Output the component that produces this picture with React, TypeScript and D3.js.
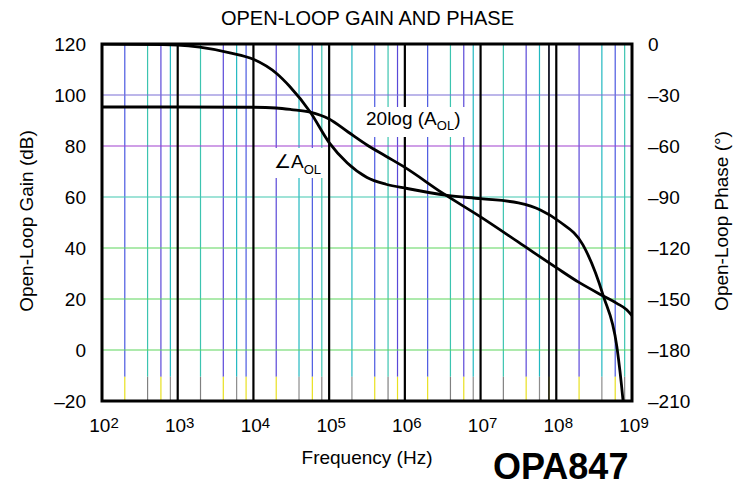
import React from "react";
import * as d3 from "d3";

const W = 734;
const H = 487;

// decades of frequency (Hz)
const decades = [2, 3, 4, 5, 6, 7, 8, 9];
const minorMultiples = [2, 4, 6, 8];
const gainTicks = [120, 100, 80, 60, 40, 20, 0, -20];
const phaseTicks = [0, -30, -60, -90, -120, -150, -180, -210];

// Open-loop gain, 20log(AOL), dB vs log10(f)
const gainLogF = [2, 3, 4, 4.3, 4.5, 4.75, 5.0, 5.25, 5.5, 5.75, 6.0, 6.5, 7.0, 7.5, 8.0, 8.3, 8.62, 8.8, 8.93, 9.0];
const gainDb = [95.3, 95.3, 95.2, 94.9, 94.3, 93.3, 90.6, 85.5, 80.4, 76, 71.6, 61.5, 52.2, 42.3, 32.3, 26.5, 21.2, 18.3, 15.8, 13.5];

// Open-loop phase, degrees vs log10(f)
const phaseLogF = [2, 2.8, 3.0, 3.29, 3.69, 4.0, 4.31, 4.48, 4.75, 5.0, 5.24, 5.5, 5.75, 6.03, 6.56, 7.0, 7.5, 7.79, 8.05, 8.35, 8.62, 8.8, 8.88, 8.93];
const phaseDeg = [0, -0.3, -0.6, -1.9, -5.2, -9, -17.5, -25, -40, -58, -70, -78.5, -82.5, -85, -89, -91, -93.5, -97.6, -104.7, -118, -148, -178, -209, -235];

const hGridColors = ["#7a6fd6", "#a040d0", "#40c8b0", "#5cd65c", "#5cd65c", "#5cd65c"];
const minorColors = ["#5a48d8", "#22b8c0", "#4a58e0", "#3cc4b0"];
const minorLowColors = ["#e8e020", "#8c8c8c", "#e8e020", "#808080"];

const FONT = "'Liberation Sans', Arial, Helvetica, sans-serif";

export default function App() {
  const left = 102, right = 632, top = 44, bottom = 401;
  const xs = d3.scaleLog().domain([1e2, 1e9]).range([left, right]);
  const yG = d3.scaleLinear().domain([-20, 120]).range([bottom, top]);
  const yP = d3.scaleLinear().domain([-210, 0]).range([bottom, top]);

  const gainPts: [number, number][] = gainLogF.map((f, i) => [f, gainDb[i]]);
  const phasePts: [number, number][] = phaseLogF.map((f, i) => [f, phaseDeg[i]]);

  const gainLine = d3
    .line<[number, number]>()
    .x((d) => xs(Math.pow(10, d[0])))
    .y((d) => yG(d[1]))
    .curve(d3.curveMonotoneX);
  const phaseLine = d3
    .line<[number, number]>()
    .x((d) => xs(Math.pow(10, d[0])))
    .y((d) => yP(d[1]))
    .curve(d3.curveMonotoneX);

  const lowY = yG(-10.5);
  const fmt = (v: number) => (v < 0 ? "\u2013" + Math.abs(v) : String(v));

  return (
    <div style={{ position: "absolute", left: 0, top: 0 }}>
      <svg width={W} height={H} style={{ display: "block", background: "#fff" }} fontFamily={FONT}>
        <defs>
          <clipPath id="plotClip">
            <rect x={left} y={top} width={right - left} height={bottom - top} />
          </clipPath>
        </defs>
        <rect x={0} y={0} width={W} height={H} fill="#fff" />

        {/* minor vertical grid */}
        {decades.slice(0, -1).map((d) =>
          minorMultiples.map((m, i) => {
            const x = xs(m * Math.pow(10, d));
            return (
              <g key={`m${d}-${m}`}>
                <line x1={x} x2={x} y1={top} y2={lowY} stroke={minorColors[(i + d) % 4]} strokeWidth={1.2} />
                <line x1={x} x2={x} y1={lowY} y2={bottom} stroke={minorLowColors[(i + d) % 4]} strokeWidth={1.2} />
              </g>
            );
          })
        )}

        {/* horizontal grid */}
        {gainTicks.slice(1, -1).map((v, i) => (
          <line key={`h${v}`} x1={left} x2={right} y1={yG(v)} y2={yG(v)} stroke={hGridColors[i]} strokeWidth={1.2} />
        ))}

        {/* decade lines */}
        {decades.slice(1, -1).map((d) => (
          <line key={`d${d}`} x1={xs(Math.pow(10, d))} x2={xs(Math.pow(10, d))} y1={top} y2={bottom} stroke="#000" strokeWidth={2.2} />
        ))}
        <line x1={xs(8e7)} x2={xs(8e7)} y1={top} y2={bottom} stroke="#111" strokeWidth={1.6} />

        {/* label backgrounds */}
        <rect x={362} y={107} width={108} height={30} fill="#fff" />
        <rect x={271} y={148} width={54} height={30} fill="#fff" />

        {/* curves */}
        <g clipPath="url(#plotClip)">
          <path d={phaseLine(phasePts) || ""} fill="none" stroke="#000" strokeWidth={2.8} />
          <path d={gainLine(gainPts) || ""} fill="none" stroke="#000" strokeWidth={2.8} />
        </g>

        {/* frame */}
        <rect x={left} y={top} width={right - left} height={bottom - top} fill="none" stroke="#000" strokeWidth={3} />

        {/* curve labels */}
        <text x={366} y={125} fontSize={19} fill="#000">
          20log (A<tspan fontSize={13} dy={5}>OL</tspan><tspan dy={-5}>)</tspan>
        </text>
        <text x={274} y={168} fontSize={19} fill="#000">
          ∠A<tspan fontSize={13} dy={6}>OL</tspan>
        </text>

        {/* left ticks */}
        {gainTicks.map((v) => (
          <text key={`gl${v}`} x={86} y={yG(v) + 6.5} fontSize={19} textAnchor="end" fill="#000">
            {fmt(v)}
          </text>
        ))}
        {/* right ticks */}
        {phaseTicks.map((v) => (
          <text key={`pl${v}`} x={648} y={yP(v) + 6.5} fontSize={19} textAnchor="start" fill="#000">
            {fmt(v)}
          </text>
        ))}
        {/* bottom ticks */}
        {decades.map((d) => (
          <text key={`xt${d}`} x={xs(Math.pow(10, d)) + 2} y={432} fontSize={19} textAnchor="middle" fill="#000">
            10<tspan fontSize={15} dy={-4}>{d}</tspan>
          </text>
        ))}

        {/* titles */}
        <text x={367.5} y={25} fontSize={20} textAnchor="middle" fill="#000">
          OPEN-LOOP GAIN AND PHASE
        </text>
        <text x={367} y={464} fontSize={19} textAnchor="middle" fill="#000">
          Frequency (Hz)
        </text>
        <text transform="translate(33,221) rotate(-90)" fontSize={19} textAnchor="middle" fill="#000">
          Open-Loop Gain (dB)
        </text>
        <text transform="translate(728,221) rotate(-90)" fontSize={19} textAnchor="middle" fill="#000">
          Open-Loop Phase (°)
        </text>
        <text x={493} y={479} fontSize={36} fontWeight="bold" fill="#000">
          OPA847
        </text>
      </svg>
    </div>
  );
}
